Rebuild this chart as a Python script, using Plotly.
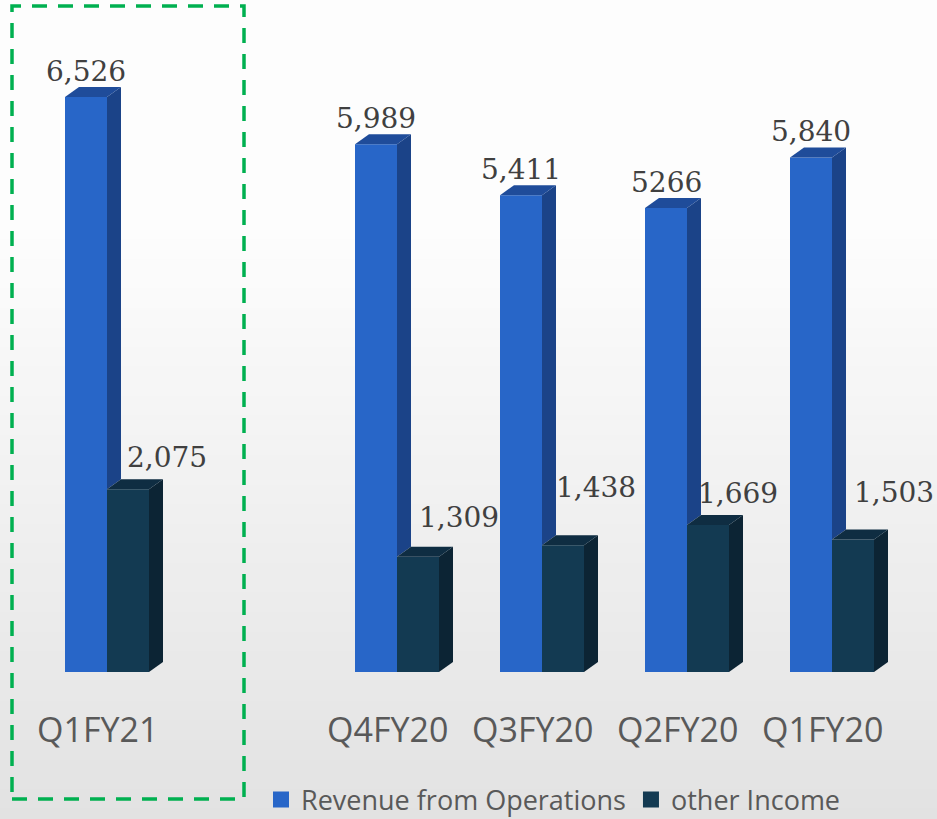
import plotly.graph_objects as go

# ---- data ----
categories = ["Q1FY21", "", "Q4FY20", "Q3FY20", "Q2FY20", "Q1FY20"]
revenue = [6526, None, 5989, 5411, 5266, 5840]
other_income = [2075, None, 1309, 1438, 1669, 1503]
revenue_text = ["6,526", "", "5,989", "5,411", "5266", "5,840"]
other_text = ["2,075", "", "1,309", "1,438", "1,669", "1,503"]

# hand placement of the "other Income" labels (pixels), as in the original slide
other_label_dx = [39, 0, 41, 33, 30, 41]
other_label_dy = [3, 0, 11, 29, 3, 19]

W, H = 937, 819
BLUE = "#2866C8"
BLUE_SIDE = "#1B4388"
BLUE_TOP = "#1F4C9A"
DARK = "#133A52"
DARK_SIDE = "#0C2434"
DARK_TOP = "#0F2D42"

# axis geometry (pixel scale -> data units)
px_per_cat = 145.0
px_per_val = 575.0 / 6526
x_range = [-107 / px_per_cat, (W - 107) / px_per_cat]
y_range = [-(H - 672) / px_per_val, 672 / px_per_val]
bw = 42 / px_per_cat          # front face width
dx = 14 / px_per_cat          # depth offset (x)
dy = 10 / px_per_val          # depth offset (y)

xs = list(range(len(categories)))

fig = go.Figure()

fig.add_trace(go.Bar(x=xs, y=revenue, width=bw, offset=-bw, marker=dict(color=BLUE, line_width=0),
                     name="Revenue from Operations", showlegend=False, hoverinfo="skip"))
fig.add_trace(go.Bar(x=xs, y=other_income, width=bw, offset=0, marker=dict(color=DARK, line_width=0),
                     name="other Income", showlegend=False, hoverinfo="skip"))


def face(px, py, color):
    fig.add_trace(go.Scatter(x=px + [px[0]], y=py + [py[0]], mode="lines", fill="toself",
                             fillcolor=color, line=dict(width=0, color=color),
                             showlegend=False, hoverinfo="skip"))


for i, (r, o) in enumerate(zip(revenue, other_income)):
    if r is None:
        continue
    # revenue bar: side (only the part visible above the other-income bar) and top
    x0, x1 = i - bw, i
    face([x1, x1 + dx, x1 + dx, x1], [o, o + dy, r + dy, r], BLUE_SIDE)
    face([x0, x0 + dx, x1 + dx, x1], [r, r + dy, r + dy, r], BLUE_TOP)
    # other income bar: side and top
    x0, x1 = i, i + bw
    face([x1, x1 + dx, x1 + dx, x1], [0, dy, o + dy, o], DARK_SIDE)
    face([x0, x0 + dx, x1 + dx, x1], [o, o + dy, o + dy, o], DARK_TOP)

# legend entries with bigger square swatches
for name, color in [("Revenue from Operations", BLUE), ("other Income", DARK)]:
    fig.add_trace(go.Scatter(x=[None], y=[None], mode="markers", name=name,
                             marker=dict(symbol="square", size=16, color=color)))

annotations = []
label_font = dict(family="DejaVu Serif", size=28, color="#404040")
for i, (r, o) in enumerate(zip(revenue, other_income)):
    if r is None:
        continue
    annotations.append(dict(x=i - bw / 2, y=r + dy, text=revenue_text[i], showarrow=False,
                            xref="x", yref="y", yanchor="bottom", yshift=-3, font=label_font))
    annotations.append(dict(x=i + bw / 2, y=o + dy, text=other_text[i], showarrow=False,
                            xref="x", yref="y", yanchor="bottom",
                            xshift=other_label_dx[i], yshift=other_label_dy[i], font=label_font))
    annotations.append(dict(x=i, y=(H - 729) / H, text=categories[i], showarrow=False,
                            xref="x", yref="paper", yanchor="middle", xshift=-10,
                            font=dict(family="Open Sans", size=34, color="#595959")))

# soft vertical background gradient
shapes = []
n_bands = 60
top_px = 230
for k in range(n_bands):
    y_a = top_px + (H - top_px) * k / n_bands
    y_b = top_px + (H - top_px) * (k + 1) / n_bands
    g = round(253 - (253 - 226) * (k + 0.5) / n_bands)
    shapes.append(dict(type="rect", xref="paper", yref="paper", x0=0, x1=1,
                       y0=1 - y_b / H, y1=1 - y_a / H + 0.001, layer="below",
                       fillcolor=f"rgb({g},{g},{g})", line_width=0))
shapes.append(dict(type="rect", xref="paper", yref="paper", x0=0, x1=1, y0=1 - top_px / H, y1=1,
                   layer="below", fillcolor="rgb(253,253,253)", line_width=0))

# dashed highlight box around the latest quarter
shapes.append(dict(type="rect", xref="paper", yref="paper",
                   x0=12 / W, x1=244 / W, y0=1 - 799 / H, y1=1 - 6 / H,
                   line=dict(color="#00B050", width=3.5, dash="15px,11px"), fillcolor="rgba(0,0,0,0)"))

fig.update_layout(
    width=W, height=H,
    margin=dict(l=0, r=0, t=0, b=0, autoexpand=False),
    paper_bgcolor="white",
    plot_bgcolor="rgba(0,0,0,0)",
    barmode="overlay",
    xaxis=dict(range=x_range, visible=False, fixedrange=True),
    yaxis=dict(range=y_range, visible=False, fixedrange=True),
    showlegend=True,
    legend=dict(orientation="h", x=261 / W, y=(H - 800) / H, xanchor="left", yanchor="middle",
                bgcolor="rgba(0,0,0,0)", font=dict(family="Open Sans", size=27, color="#595959"),
                itemclick=False, itemdoubleclick=False),
    annotations=annotations,
    shapes=shapes,
)

fig.write_html("out.html", config={"displayModeBar": False},
               post_script="document.body.style.margin='0';")
